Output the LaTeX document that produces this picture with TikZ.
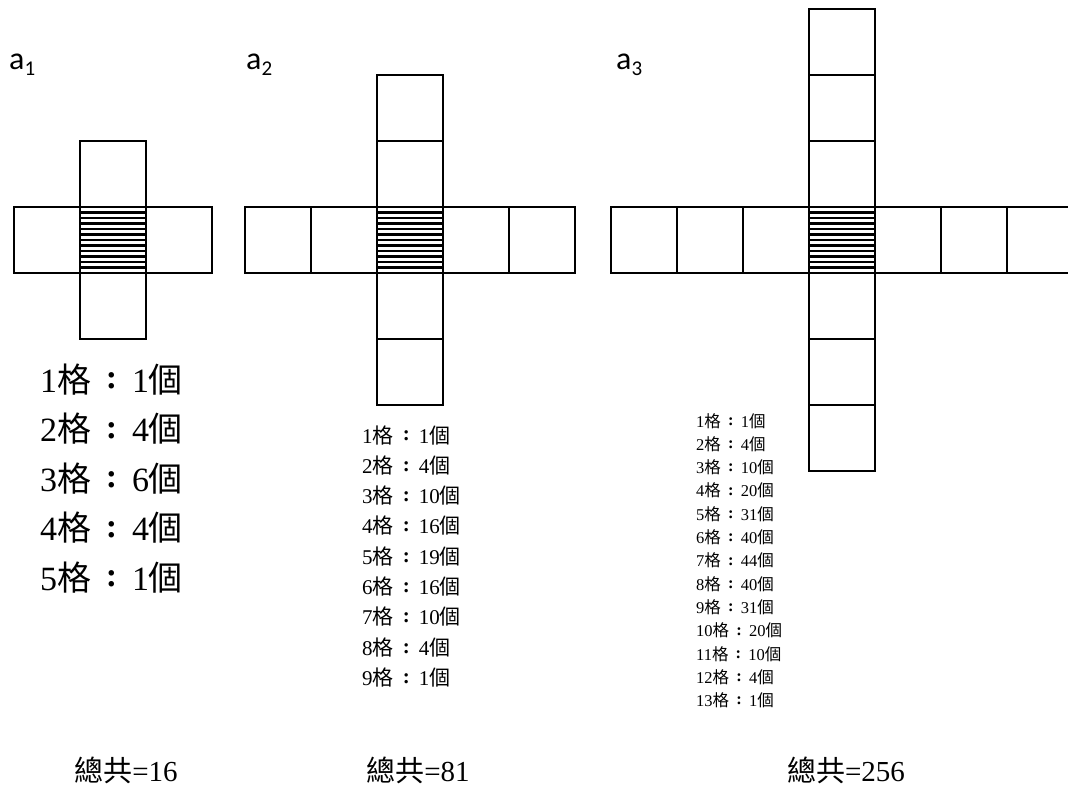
\documentclass[tikz,border=0pt]{standalone}
\usepackage{fontspec}
\setmainfont{Liberation Serif}
\newfontfamily\cjk{Noto Sans CJK TC}
\newfontfamily\lblfont{Carlito}
\newcommand{\cjkcolon}{\makebox[1.2em][c]{\raisebox{0.1em}{\textbf{:}}}}
\newcommand{\gerow}[2]{#1{\cjk 格}\cjkcolon#2{\cjk 個}}
\newcommand{\totalrow}[1]{{\cjk 總共}=#1}
\begin{document}
\begin{tikzpicture}[x=1pt,y=-1pt,
  cell/.style={draw=black,line width=1.6pt},
  hatchline/.style={line width=2.5pt},
  lbl/.style={anchor=base west,inner sep=0pt,font=\lblfont\fontsize{32}{32}\selectfont},
  bigrow/.style={anchor=base west,inner sep=0pt,font=\fontsize{34}{34}\selectfont},
  midrow/.style={anchor=base west,inner sep=0pt,font=\fontsize{21}{21}\selectfont},
  smallrow/.style={anchor=base west,inner sep=0pt,font=\fontsize{16.5}{16.5}\selectfont},
  total/.style={anchor=base,inner sep=0pt,font=\fontsize{29}{29}\selectfont}]
\useasboundingbox (0,0) rectangle (1068,787);
\fill[white] (0,0) rectangle (1068,787);
\newcommand\cellat[2]{\draw[cell] (#1,#2) rectangle ++(66,66);}
\newcommand\hatchat[2]{\foreach \i in {1,...,11}{\draw[hatchline] (#1,#2+\i*5.5) -- ++(66,0);}\draw[cell] (#1,#2) rectangle ++(66,66);}
% labels
\node[lbl] (la1) at (9,69) {a\raisebox{-0.2em}{\fontsize{21}{21}\selectfont 1}};
\node[lbl] (la2) at (246,69) {a\raisebox{-0.2em}{\fontsize{21}{21}\selectfont 2}};
\node[lbl] (la3) at (616,69) {a\raisebox{-0.2em}{\fontsize{21}{21}\selectfont 3}};
% a1 cross
\cellat{14}{207}\cellat{146}{207}\cellat{80}{141}\cellat{80}{273}
\hatchat{80}{207}
% a2 cross
\foreach \x in {245,311,443,509}{\cellat{\x}{207}}
\foreach \y in {75,141,273,339}{\cellat{377}{\y}}
\hatchat{377}{207}
% a3 cross
\foreach \x in {611,677,743,875,941,1007}{\cellat{\x}{207}}
\foreach \y in {9,75,141,273,339,405}{\cellat{809}{\y}}
\hatchat{809}{207}
% a1 list
\foreach \n/\m [count=\k from 0] in {1/1,2/4,3/6,4/4,5/1}{
  \node[bigrow] (ra\n) at (40,392+49.5*\k) {\gerow{\n}{\m}};}
% a2 list
\foreach \n/\m [count=\k from 0] in {1/1,2/4,3/10,4/16,5/19,6/16,7/10,8/4,9/1}{
  \node[midrow] (rb\n) at (362,443+30.3*\k) {\gerow{\n}{\m}};}
% a3 list
\foreach \n/\m [count=\k from 0] in {1/1,2/4,3/10,4/20,5/31,6/40,7/44,8/40,9/31,10/20,11/10,12/4,13/1}{
  \node[smallrow] (rc\n) at (696,427+23.3*\k) {\gerow{\n}{\m}};}
% totals
\node[total] (t1) at (126,781) {\totalrow{16}};
\node[total] (t2) at (418,781) {\totalrow{81}};
\node[total] (t3) at (846,781) {\totalrow{256}};
\end{tikzpicture}
\end{document}
